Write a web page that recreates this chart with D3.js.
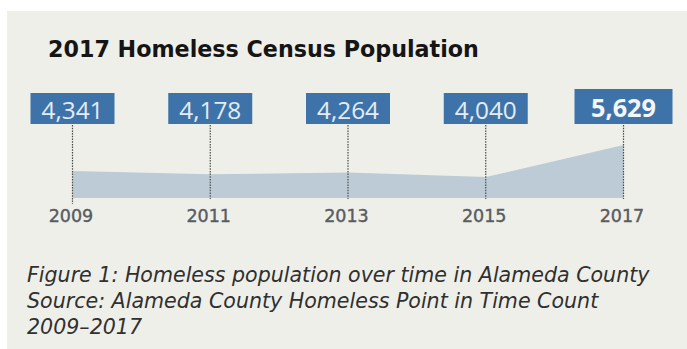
<!DOCTYPE html>
<html><head><meta charset="utf-8">
<script src="https://cdn.jsdelivr.net/npm/d3@7/dist/d3.min.js"></script>
<style>html,body{margin:0;padding:0;background:#fff;}svg{display:block;}</style>
</head><body>
<script>
const years = [2009, 2011, 2013, 2015, 2017];
const values = [4341, 4178, 4264, 4040, 5629];
const valueLabels = ["4,341", "4,178", "4,264", "4,040", "5,629"];
const title = "2017 Homeless Census Population";
const captionLines = [
  "Figure 1: Homeless population over time in Alameda County",
  "Source: Alameda County Homeless Point in Time Count",
  "2009\u20132017"
];

const W = 687, H = 349;
const svg = d3.select("body").append("svg").attr("width", W).attr("height", H);

svg.append("rect").attr("x", 7).attr("y", 11).attr("width", W - 7).attr("height", H - 11).attr("fill", "#efefe9");

const x = d3.scaleLinear().domain([2009, 2017]).range([72.5, 623.5]);
const y = d3.scaleLinear().domain([3005, 5629]).range([198, 145]);

function sizeTo(el, target) {
  const fs = +el.attr("font-size");
  const w = el.node().getComputedTextLength();
  const nf = fs * target / w;
  el.attr("font-size", nf);
  return nf;
}

// title
const t = svg.append("text").attr("x", 48).attr("y", 57)
  .attr("font-family", "'DejaVu Sans', sans-serif").attr("font-weight", 700)
  .attr("font-size", 20).attr("fill", "#151515").text(title);
sizeTo(t, 431);

// area
const area = d3.area().x((d, i) => x(years[i])).y0(y.range()[0]).y1(d => y(d));
svg.append("path").datum(values).attr("d", area).attr("fill", "#bccbd6");

// dotted lines
const last = years.length - 1;
svg.selectAll("line.drop").data(years).join("line").attr("class", "drop")
  .attr("x1", d => x(d)).attr("x2", d => x(d))
  .attr("y1", 125).attr("y2", (d, i) => i === 0 ? 204 : 199)
  .attr("stroke", "#4a4a4a").attr("stroke-width", 1.2).attr("stroke-dasharray", "1.5,1.2");

// value boxes
const g = svg.selectAll("g.box").data(years).join("g").attr("class", "box");
g.each(function(d, i){
  const big = i === last;
  const sel = d3.select(this);
  const rect = sel.append("rect").attr("fill", "#3e73a9");
  const txt = sel.append("text").attr("text-anchor", "middle")
    .attr("font-family", "'Open Sans', sans-serif")
    .attr("font-weight", big ? 700 : 400)
    .attr("font-size", big ? 25 : 23)
    .attr("fill", big ? "#f4f6fa" : "#e4ecf4")
    .attr("x", x(d)).attr("y", big ? 116.5 : 118.5)
    .text(valueLabels[i]);
  sizeTo(txt, big ? 65 : 62);
  const bw = big ? 98 : 84, bh = big ? 35 : 31;
  rect.attr("x", x(d) - bw / 2).attr("y", 124 - bh).attr("width", bw).attr("height", bh);
});

// year labels
svg.selectAll("text.year").data(years).join("text").attr("class", "year")
  .attr("x", d => x(d) - 1.5).attr("y", 222).attr("text-anchor", "middle")
  .attr("font-family", "'DejaVu Sans', sans-serif").attr("font-weight", 400)
  .attr("font-size", 17.5).attr("fill", "#575c63")
  .attr("stroke", "#575c63").attr("stroke-width", 0.4).text(d => d);

// caption
const cap = svg.selectAll("text.cap").data(captionLines).join("text").attr("class", "cap")
  .attr("x", 27).attr("y", (d, i) => 281.5 + i * 26.2)
  .attr("font-family", "'DejaVu Sans', sans-serif").attr("font-style", "italic").attr("font-weight", 400)
  .attr("font-size", 18).attr("fill", "#303030").text(d => d);
const cfs = sizeTo(cap.filter((d, i) => i === 0), 623);
cap.attr("font-size", cfs);
</script>
</body></html>
